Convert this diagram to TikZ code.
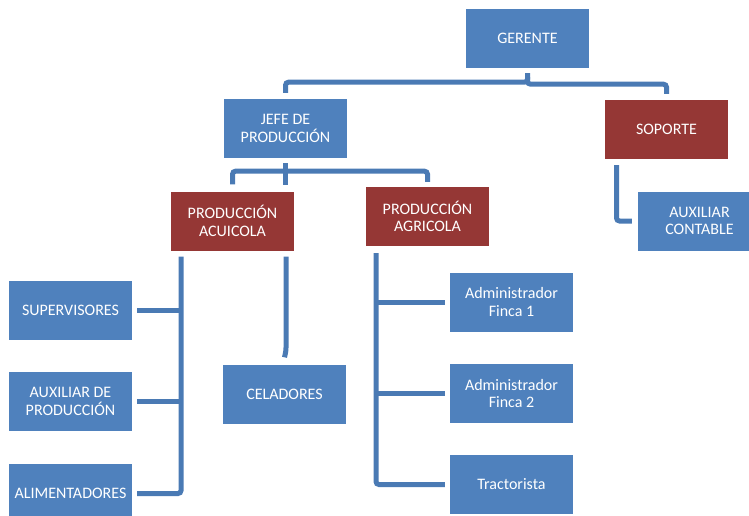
\documentclass[tikz,border=0pt]{standalone}
\usepackage{fontspec}
\setmainfont{Carlito}
\usetikzlibrary{positioning}
\definecolor{boxblue}{RGB}{79,129,189}
\definecolor{boxred}{RGB}{149,55,53}
\definecolor{lineblue}{RGB}{74,122,180}

\begin{document}
\begin{tikzpicture}[x = 1pt, y = -1pt,
unit/.style={ rectangle, fill = boxblue, text = white, align = center, minimum width = 123pt, minimum height = 59pt, inner sep = 0pt, font = \fontsize{16}{17.5}\selectfont },
area/.style={ unit, fill = boxred },
conn/.style={ draw = lineblue, line width = 5pt, rounded corners = 3pt }
]
\useasboundingbox (0,0) rectangle (749,516);
%create the nodes
\node (ger) [unit] at (527.5,38.5) {GERENTE};
\node (jefe) [unit] at (285.5,128.5) {JEFE DE\\PRODUCCIÓN};
\node (sop) [area] at (666.5,129.5) {SOPORTE};
\node (acui) [area] at (232.5,221) {PRODUCCIÓN\\ACUICOLA};
\node (agri) [area] at (427.5,216.5) {PRODUCCIÓN\\AGRICOLA};
\node (auxc) [unit] at (699.5,221) {AUXILIAR\\CONTABLE};
\node (sup) [unit] at (70.5,310.5) {SUPERVISORES};
\node (auxp) [unit] at (70.5,401.5) {AUXILIAR DE\\PRODUCCIÓN};
\node (alim) [unit] at (70.5,493.5) {ALIMENTADORES};
\node (cel) [unit] at (284.5,394) {CELADORES};
\node (adm1) [unit] at (511.5,302) {Administrador\\Finca 1};
\node (adm2) [unit] at (511.5,393.5) {Administrador\\Finca 2};
\node (trac) [unit] at (511.5,484.5) {Tractorista};

%link them
\draw[conn] ([yshift=-5pt]ger.south) -- ++(0,9) -| ([yshift=6pt]jefe.north);
\draw[conn] ([yshift=-9pt]ger.south) -- ++(0,7) -| ([yshift=6pt]sop.north);

\draw[conn] ([yshift=-5pt]jefe.south) -- ++(0,22);
\draw[conn] ([yshift=-13pt]jefe.south) -| ([yshift=7pt]acui.north);
\draw[conn] ([yshift=-13pt]jefe.south) -| ([yshift=5pt]agri.north);

\draw[conn] ([xshift=-50pt, yshift=-6pt]sop.south) |- ([xshift=-6pt]auxc.west);

\coordinate (acuL) at ([xshift=-51.5pt, yshift=-6pt]acui.south);
\draw[conn] (acuL) |- ([xshift=5pt]alim.east);
\draw[conn] ([xshift=5pt]sup.east) -- (sup.east -| acuL);
\draw[conn] ([xshift=5pt]auxp.east) -- (auxp.east -| acuL);
\draw[conn] ([xshift=53.5pt, yshift=-6pt]acui.south) -- ++(0,94) -- ([yshift=7pt]cel.north);

\coordinate (agrL) at ([xshift=-51.5pt, yshift=-7pt]agri.south);
\draw[conn] (agrL) |- ([xshift=-5pt]trac.west);
\draw[conn] (agrL |- adm1.west) -- ([xshift=-5pt]adm1.west);
\draw[conn] (agrL |- adm2.west) -- ([xshift=-5pt]adm2.west);
\end{tikzpicture}
\end{document}
